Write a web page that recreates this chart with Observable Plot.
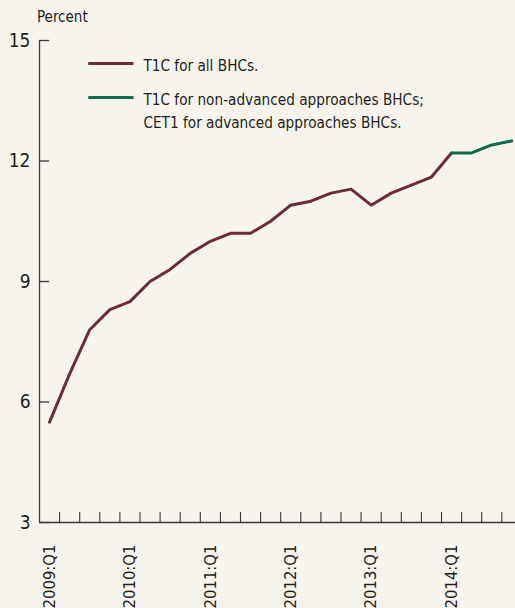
<!DOCTYPE html>
<html>
<head>
<meta charset="utf-8">
<script src="https://cdn.jsdelivr.net/npm/d3@7"></script>
<script src="https://cdn.jsdelivr.net/npm/@observablehq/plot@0.6"></script>
<style>
  html, body { margin: 0; padding: 0; background: #f7f4ee; overflow: hidden; }
  #wrap { position: relative; width: 515px; height: 608px; background: #f7f4ee;
          font-family: "Liberation Sans Narrow", "DejaVu Sans Condensed", "Roboto Condensed", sans-serif; color: #231f20; }
  #unit { position: absolute; left: 37px; top: 8px; font-size: 15px; }
  #chart { position: absolute; left: 0; top: 0; }
</style>
</head>
<body>
<div id="wrap">
  <div id="chart"></div>
  <div id="unit">Percent</div>
</div>
<script>
// Quarters 2009:Q1 ... 2014:Q4
const quarters = [
  "2009:Q1","2009:Q2","2009:Q3","2009:Q4",
  "2010:Q1","2010:Q2","2010:Q3","2010:Q4",
  "2011:Q1","2011:Q2","2011:Q3","2011:Q4",
  "2012:Q1","2012:Q2","2012:Q3","2012:Q4",
  "2013:Q1","2013:Q2","2013:Q3","2013:Q4",
  "2014:Q1","2014:Q2","2014:Q3","2014:Q4"
];
// T1C for all BHCs (2009:Q1 - 2014:Q1)
const t1cAll = [5.5, 6.7, 7.8, 8.3, 8.5, 9.0, 9.3, 9.7, 10.0, 10.2, 10.2, 10.5,
                10.9, 11.0, 11.2, 11.3, 10.9, 11.2, 11.4, 11.6, 12.2];
// T1C for non-advanced approaches BHCs; CET1 for advanced approaches BHCs (2014:Q1 - 2014:Q4)
const mixedQuarters = ["2014:Q1","2014:Q2","2014:Q3","2014:Q4"];
const mixed = [12.2, 12.2, 12.4, 12.5];
const yTicks = [3, 6, 9, 12, 15];
const labelQuarters = ["2009:Q1","2010:Q1","2011:Q1","2012:Q1","2013:Q1","2014:Q1"];
const legendLabels = ["T1C for all BHCs.", "T1C for non-advanced approaches BHCs;\nCET1 for advanced approaches BHCs."];
const colors = ["#6b2d33", "#0b6b4a"];

const idx = q => quarters.indexOf(q);
const dataAll = t1cAll.map((v, i) => ({i, v}));
const dataMixed = mixed.map((v, k) => ({i: idx(mixedQuarters[k]), v}));
const boundaries = d3.range(0, quarters.length).map(i => i + 0.5);
const labelData = labelQuarters.map(q => ({i: idx(q), q}));
const axisColor = "#3a3a3a";
const font = "'Liberation Sans Narrow', 'DejaVu Sans Condensed', sans-serif";
const legendY = [14.43, 13.58];

const plot = Plot.plot({
  width: 515,
  height: 608,
  marginTop: 40,
  marginBottom: 86,
  marginLeft: 39,
  marginRight: 0,
  style: {background: "transparent", fontFamily: font, fontSize: "16px", color: "#231f20", overflow: "visible"},
  x: {type: "linear", domain: [-0.5, quarters.length - 0.5], range: [39, 39 + 24 * 20.1], axis: null},
  y: {type: "linear", domain: [3, 15], axis: null},
  marks: [
    // y axis line
    Plot.ruleX([-0.5], {y1: 3, y2: 15, stroke: axisColor, strokeWidth: 1.3}),
    // x axis line
    Plot.ruleY([3], {x1: -0.5, x2: quarters.length - 0.5, stroke: axisColor, strokeWidth: 1.3}),
    // y ticks (inward)
    Plot.ruleY(yTicks, {y: d => d, x1: -0.5, x2: 0, stroke: axisColor, strokeWidth: 1.3}),
    Plot.text(yTicks, {x: -0.5, y: d => d, text: d => String(d), textAnchor: "end", dx: -9, fontSize: 19, fill: "#231f20"}),
    // x ticks upward at quarter boundaries
    Plot.ruleX(boundaries, {y1: 3, y2: 3 + 10 / 40.2, stroke: axisColor, strokeWidth: 1.1}),
    // rotated quarter labels
    Plot.text(labelData, {x: "i", y: 3, text: "q", rotate: -90, textAnchor: "end", dy: 22, fontSize: 16.5, fill: "#231f20"}),
    // lines
    Plot.line(dataAll, {x: "i", y: "v", stroke: colors[0], strokeWidth: 3}),
    Plot.line(dataMixed, {x: "i", y: "v", stroke: colors[1], strokeWidth: 3}),
    // legend
    Plot.ruleY([0, 1], {y: d => legendY[d], x1: 1.95, x2: 4.2, stroke: d => colors[d], strokeWidth: 3}),
    Plot.text([0, 1], {x: 4.67, y: d => legendY[d], text: d => legendLabels[d], textAnchor: "start",
      lineAnchor: "top", dy: -9, lineHeight: 1.5, fontSize: 15.2, fill: "#231f20"})
  ]
});

document.getElementById("chart").appendChild(plot);
</script>
</body>
</html>
